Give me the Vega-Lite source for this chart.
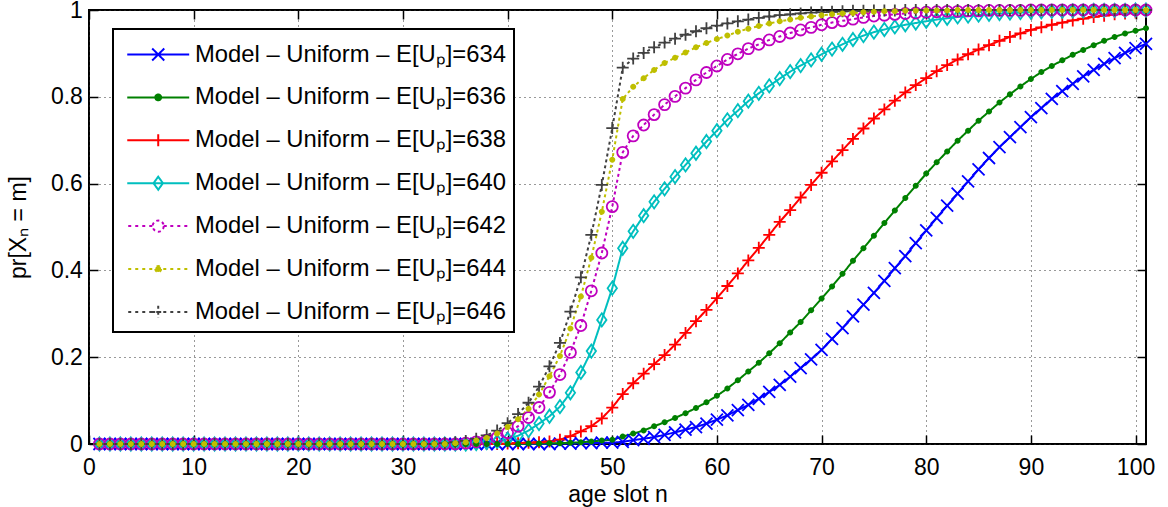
{
"$schema": "https://vega.github.io/schema/vega-lite/v6.json",
"width": 1057, "height": 434,
"autosize": {"type": "none"},
"padding": {"left": 89, "top": 10, "right": 22, "bottom": 63},
"background": "white",
"config": {
  "font": "Liberation Sans",
  "view": {"stroke": "black", "strokeWidth": 2},
  "axis": {"labelFont": "Liberation Sans", "labelFontSize": 23, "labelColor": "black", "labelFlush": false, "titleFont": "Liberation Sans", "titleFontSize": 23, "titleFontWeight": "normal", "titleColor": "black", "domain": false, "tickColor": "black", "tickWidth": 1.5, "gridColor": "#333333", "gridDash": [1, 4], "gridOpacity": 1, "gridWidth": 1}
},
"data": {"values": [
{"n":1,"634":0,"636":0,"638":0,"640":0,"642":0,"644":0,"646":0},
{"n":2,"634":0,"636":0,"638":0,"640":0,"642":0,"644":0,"646":0},
{"n":3,"634":0,"636":0,"638":0,"640":0,"642":0,"644":0,"646":0},
{"n":4,"634":0,"636":0,"638":0,"640":0,"642":0,"644":0,"646":0},
{"n":5,"634":0,"636":0,"638":0,"640":0,"642":0,"644":0,"646":0},
{"n":6,"634":0,"636":0,"638":0,"640":0,"642":0,"644":0,"646":0},
{"n":7,"634":0,"636":0,"638":0,"640":0,"642":0,"644":0,"646":0},
{"n":8,"634":0,"636":0,"638":0,"640":0,"642":0,"644":0,"646":0},
{"n":9,"634":0,"636":0,"638":0,"640":0,"642":0,"644":0,"646":0},
{"n":10,"634":0,"636":0,"638":0,"640":0,"642":0,"644":0,"646":0},
{"n":11,"634":0,"636":0,"638":0,"640":0,"642":0,"644":0,"646":0},
{"n":12,"634":0,"636":0,"638":0,"640":0,"642":0,"644":0,"646":0},
{"n":13,"634":0,"636":0,"638":0,"640":0,"642":0,"644":0,"646":0},
{"n":14,"634":0,"636":0,"638":0,"640":0,"642":0,"644":0,"646":0},
{"n":15,"634":0,"636":0,"638":0,"640":0,"642":0,"644":0,"646":0},
{"n":16,"634":0,"636":0,"638":0,"640":0,"642":0,"644":0,"646":0},
{"n":17,"634":0,"636":0,"638":0,"640":0,"642":0,"644":0,"646":0},
{"n":18,"634":0,"636":0,"638":0,"640":0,"642":0,"644":0,"646":0},
{"n":19,"634":0,"636":0,"638":0,"640":0,"642":0,"644":0,"646":0},
{"n":20,"634":0,"636":0,"638":0,"640":0,"642":0,"644":0,"646":0},
{"n":21,"634":0,"636":0,"638":0,"640":0,"642":0,"644":0,"646":0},
{"n":22,"634":0,"636":0,"638":0,"640":0,"642":0,"644":0,"646":0},
{"n":23,"634":0,"636":0,"638":0,"640":0,"642":0,"644":0,"646":0},
{"n":24,"634":0,"636":0,"638":0,"640":0,"642":0,"644":0,"646":0},
{"n":25,"634":0,"636":0,"638":0,"640":0,"642":0,"644":0,"646":0},
{"n":26,"634":0,"636":0,"638":0,"640":0,"642":0,"644":0,"646":0},
{"n":27,"634":0,"636":0,"638":0,"640":0,"642":0,"644":0,"646":0},
{"n":28,"634":0,"636":0,"638":0,"640":0,"642":0,"644":0,"646":0},
{"n":29,"634":0,"636":0,"638":0,"640":0,"642":0,"644":0,"646":0},
{"n":30,"634":0,"636":0,"638":0,"640":0,"642":0,"644":0,"646":0},
{"n":31,"634":0,"636":0,"638":0,"640":0,"642":0,"644":0,"646":0},
{"n":32,"634":0,"636":0,"638":0,"640":0,"642":0,"644":0,"646":0},
{"n":33,"634":0,"636":0,"638":0,"640":0,"642":0,"644":0,"646":0},
{"n":34,"634":0,"636":0,"638":0,"640":0,"642":0,"644":0,"646":0.002},
{"n":35,"634":0,"636":0,"638":0,"640":0,"642":0,"644":0.002,"646":0.004},
{"n":36,"634":0,"636":0,"638":0,"640":0,"642":0.002,"644":0.004,"646":0.007},
{"n":37,"634":0,"636":0,"638":0,"640":0.001,"642":0.005,"644":0.008,"646":0.012},
{"n":38,"634":0,"636":0,"638":0,"640":0.003,"642":0.009,"644":0.014,"646":0.020},
{"n":39,"634":0,"636":0,"638":0,"640":0.006,"642":0.015,"644":0.024,"646":0.031},
{"n":40,"634":0,"636":0,"638":0.001,"640":0.011,"642":0.026,"644":0.039,"646":0.048},
{"n":41,"634":0,"636":0,"638":0.002,"640":0.019,"642":0.041,"644":0.057,"646":0.069},
{"n":42,"634":0,"636":0.001,"638":0.003,"640":0.031,"642":0.061,"644":0.081,"646":0.095},
{"n":43,"634":0,"636":0.001,"638":0.004,"640":0.047,"642":0.084,"644":0.114,"646":0.132},
{"n":44,"634":0,"636":0.002,"638":0.006,"640":0.064,"642":0.119,"644":0.156,"646":0.179},
{"n":45,"634":0.001,"636":0.002,"638":0.010,"640":0.086,"642":0.160,"644":0.203,"646":0.233},
{"n":46,"634":0.001,"636":0.003,"638":0.018,"640":0.118,"642":0.211,"644":0.266,"646":0.305},
{"n":47,"634":0.002,"636":0.004,"638":0.029,"640":0.165,"642":0.273,"644":0.340,"646":0.384},
{"n":48,"634":0.002,"636":0.006,"638":0.041,"640":0.214,"642":0.353,"644":0.429,"646":0.482},
{"n":49,"634":0.003,"636":0.008,"638":0.059,"640":0.286,"642":0.440,"644":0.535,"646":0.597},
{"n":50,"634":0.003,"636":0.010,"638":0.084,"640":0.359,"642":0.547,"644":0.655,"646":0.728},
{"n":51,"634":0.005,"636":0.017,"638":0.115,"640":0.451,"642":0.672,"644":0.795,"646":0.867},
{"n":52,"634":0.009,"636":0.024,"638":0.140,"640":0.490,"642":0.710,"644":0.823,"646":0.888},
{"n":53,"634":0.012,"636":0.031,"638":0.162,"640":0.526,"642":0.735,"644":0.843,"646":0.901},
{"n":54,"634":0.016,"636":0.041,"638":0.184,"640":0.558,"642":0.759,"644":0.862,"646":0.914},
{"n":55,"634":0.021,"636":0.050,"638":0.205,"640":0.588,"642":0.782,"644":0.878,"646":0.925},
{"n":56,"634":0.027,"636":0.060,"638":0.229,"640":0.616,"642":0.801,"644":0.890,"646":0.934},
{"n":57,"634":0.033,"636":0.071,"638":0.256,"640":0.643,"642":0.820,"644":0.902,"646":0.943},
{"n":58,"634":0.039,"636":0.083,"638":0.283,"640":0.670,"642":0.839,"644":0.914,"646":0.951},
{"n":59,"634":0.047,"636":0.096,"638":0.309,"640":0.697,"642":0.856,"644":0.924,"646":0.958},
{"n":60,"634":0.056,"636":0.111,"638":0.336,"640":0.722,"642":0.871,"644":0.933,"646":0.964},
{"n":61,"634":0.066,"636":0.128,"638":0.364,"640":0.747,"642":0.886,"644":0.941,"646":0.969},
{"n":62,"634":0.078,"636":0.147,"638":0.393,"640":0.768,"642":0.899,"644":0.950,"646":0.974},
{"n":63,"634":0.090,"636":0.167,"638":0.423,"640":0.790,"642":0.911,"644":0.957,"646":0.978},
{"n":64,"634":0.104,"636":0.187,"638":0.452,"640":0.808,"642":0.921,"644":0.963,"646":0.982},
{"n":65,"634":0.120,"636":0.209,"638":0.482,"640":0.825,"642":0.931,"644":0.969,"646":0.985},
{"n":66,"634":0.136,"636":0.232,"638":0.512,"640":0.842,"642":0.939,"644":0.974,"646":0.988},
{"n":67,"634":0.155,"636":0.257,"638":0.539,"640":0.858,"642":0.947,"644":0.978,"646":0.990},
{"n":68,"634":0.175,"636":0.281,"638":0.568,"640":0.872,"642":0.954,"644":0.982,"646":0.992},
{"n":69,"634":0.195,"636":0.308,"638":0.597,"640":0.885,"642":0.960,"644":0.985,"646":0.994},
{"n":70,"634":0.217,"636":0.335,"638":0.625,"640":0.898,"642":0.966,"644":0.988,"646":0.995},
{"n":71,"634":0.242,"636":0.363,"638":0.651,"640":0.910,"642":0.971,"644":0.990,"646":0.996},
{"n":72,"634":0.267,"636":0.392,"638":0.677,"640":0.921,"642":0.975,"644":0.992,"646":0.997},
{"n":73,"634":0.294,"636":0.422,"638":0.703,"640":0.932,"642":0.979,"644":0.993,"646":0.998},
{"n":74,"634":0.321,"636":0.451,"638":0.727,"640":0.941,"642":0.983,"644":0.995,"646":0.998},
{"n":75,"634":0.348,"636":0.480,"638":0.750,"640":0.949,"642":0.986,"644":0.996,"646":0.999},
{"n":76,"634":0.376,"636":0.509,"638":0.771,"640":0.955,"642":0.988,"644":0.997,"646":0.999},
{"n":77,"634":0.405,"636":0.538,"638":0.791,"640":0.961,"642":0.990,"644":0.997,"646":0.999},
{"n":78,"634":0.433,"636":0.567,"638":0.810,"640":0.966,"642":0.992,"644":0.998,"646":1},
{"n":79,"634":0.463,"636":0.595,"638":0.827,"640":0.970,"642":0.993,"644":0.998,"646":1},
{"n":80,"634":0.492,"636":0.623,"638":0.843,"640":0.974,"642":0.995,"644":0.999,"646":1},
{"n":81,"634":0.521,"636":0.649,"638":0.859,"640":0.978,"642":0.996,"644":0.999,"646":1},
{"n":82,"634":0.549,"636":0.674,"638":0.873,"640":0.981,"642":0.997,"644":0.999,"646":1},
{"n":83,"634":0.577,"636":0.699,"638":0.886,"640":0.984,"642":0.997,"644":1,"646":1},
{"n":84,"634":0.605,"636":0.722,"638":0.898,"640":0.986,"642":0.998,"644":1,"646":1},
{"n":85,"634":0.633,"636":0.745,"638":0.909,"640":0.988,"642":0.998,"644":1,"646":1},
{"n":86,"634":0.659,"636":0.766,"638":0.919,"640":0.990,"642":0.999,"644":1,"646":1},
{"n":87,"634":0.684,"636":0.787,"638":0.929,"640":0.992,"642":0.999,"644":1,"646":1},
{"n":88,"634":0.707,"636":0.806,"638":0.938,"640":0.993,"642":0.999,"644":1,"646":1},
{"n":89,"634":0.730,"636":0.824,"638":0.946,"640":0.994,"642":0.999,"644":1,"646":1},
{"n":90,"634":0.753,"636":0.841,"638":0.954,"640":0.995,"642":1,"644":1,"646":1},
{"n":91,"634":0.774,"636":0.857,"638":0.960,"640":0.996,"642":1,"644":1,"646":1},
{"n":92,"634":0.795,"636":0.871,"638":0.966,"640":0.997,"642":1,"644":1,"646":1},
{"n":93,"634":0.813,"636":0.884,"638":0.971,"640":0.997,"642":1,"644":1,"646":1},
{"n":94,"634":0.830,"636":0.897,"638":0.976,"640":0.998,"642":1,"644":1,"646":1},
{"n":95,"634":0.847,"636":0.908,"638":0.980,"640":0.998,"642":1,"644":1,"646":1},
{"n":96,"634":0.862,"636":0.919,"638":0.984,"640":0.999,"642":1,"644":1,"646":1},
{"n":97,"634":0.876,"636":0.929,"638":0.987,"640":0.999,"642":1,"644":1,"646":1},
{"n":98,"634":0.889,"636":0.938,"638":0.990,"640":0.999,"642":1,"644":1,"646":1},
{"n":99,"634":0.901,"636":0.946,"638":0.992,"640":0.999,"642":1,"644":1,"646":1},
{"n":100,"634":0.912,"636":0.952,"638":0.994,"640":1,"642":1,"644":1,"646":1},
{"n":101,"634":0.922,"636":0.958,"638":0.996,"640":1,"642":1,"644":1,"646":1}
]},
"transform": [{"fold": ["634","636","638","640","642","644","646"], "as": ["series", "p"]}],
"layer": [
  {
    "mark": {"type": "line", "strokeWidth": 2},
    "encoding": {
      "x": {"field": "n", "type": "quantitative", "scale": {"domain": [0, 101], "nice": false, "zero": false},
        "axis": {"orient": "bottom", "values": [0,10,20,30,40,50,60,70,80,90,100], "title": "age slot n", "tickSize": -9, "labelPadding": 21, "titlePadding": 4, "grid": true}},
      "y": {"field": "p", "type": "quantitative", "scale": {"domain": [0, 1], "nice": false},
        "axis": {"orient": "left", "values": [0,0.2,0.4,0.6,0.8,1], "format": "~g", "title": "pr[Xₙ = m]", "tickSize": -9, "labelPadding": 15.6, "titlePadding": 20, "grid": true}},
      "color": {"field": "series", "type": "nominal",
        "scale": {"domain": ["634","636","638","640","642","644","646"], "range": ["#0000ff","#008000","#ff0000","#00bfbf","#bf00bf","#bfbf00","#404040"]},
        "legend": {
          "title": null, "orient": "none", "legendX": 24, "legendY": 19,
          "fillColor": "white", "strokeColor": "black", "padding": 8,
          "symbolSize": 1063, "symbolStrokeWidth": 2,
          "labelFont": "Liberation Sans", "labelFontSize": 23.8, "labelColor": "black", "labelOffset": 39, "labelLimit": 0,
          "rowPadding": 12.9,
          "labelExpr": "'Model – Uniform – E[Uₚ]=' + datum.label",
          "encode": {
            "legend": {"update": {"strokeWidth": {"value": 2}}},
            "symbols": {"update": {
              "shape": {"signal": "datum.value === '634' ? 'M-0.69,0L3.11,0M0.84,-0.37L1.58,0.37M0.84,0.37L1.58,-0.37' : datum.value === '636' ? 'M-0.69,0L3.11,0M1.39,0A0.18,0.18,0,1,1,1.03,0A0.18,0.18,0,1,1,1.39,0Z' : datum.value === '638' ? 'M-0.69,0L3.11,0M1.21,-0.37L1.21,0.37' : datum.value === '640' ? 'M-0.69,0L3.11,0M1.21,-0.4L1.5,0L1.21,0.4L0.92,0Z' : datum.value === '642' ? 'M-0.63,0L-0.39,0M-0.2,0L0.04,0M0.23,0L0.47,0M0.66,0L0.87,0M1.55,0L1.76,0M1.95,0L2.19,0M2.38,0L2.62,0M2.81,0L3.05,0M1.55,0A0.34,0.34,0,1,1,0.87,0A0.34,0.34,0,1,1,1.55,0Z' : datum.value === '644' ? 'M-0.63,0L-0.39,0M-0.2,0L0.04,0M0.23,0L0.47,0M0.66,0L0.9,0M1.09,0L1.33,0M1.52,0L1.76,0M1.95,0L2.19,0M2.38,0L2.62,0M2.81,0L3.05,0M1.39,0A0.18,0.18,0,1,1,1.03,0A0.18,0.18,0,1,1,1.39,0Z' : 'M-0.63,0L-0.39,0M-0.2,0L0.04,0M0.23,0L0.47,0M0.66,0L0.9,0M1.09,0L1.33,0M1.52,0L1.76,0M1.95,0L2.19,0M2.38,0L2.62,0M2.81,0L3.05,0M1.21,-0.37L1.21,0.37M0.84,0L1.58,0'"},
              "stroke": {"signal": "scale('color', datum.value)"},
              "fill": {"signal": "datum.value === '636' || datum.value === '644' ? scale('color', datum.value) : 'transparent'"},
              "strokeWidth": {"value": 2},
              "strokeDash": {"value": []},
              "size": {"value": 1063},
              "opacity": {"value": 1}
            }}
          }
        }},
      "strokeDash": {"field": "series", "type": "nominal",
        "scale": {"domain": ["634","636","638","640","642","644","646"], "range": [[1,0],[1,0],[1,0],[1,0],[3,3],[3,3],[3,3]]},
        "legend": null}
    }
  },
  {
    "transform": [{"filter": "datum.series !== '636' && datum.series !== '644'"}],
    "mark": {"type": "point", "filled": false, "size": 144, "strokeWidth": 1.8, "opacity": 1},
    "encoding": {
      "x": {"field": "n", "type": "quantitative", "axis": {"orient": "top", "values": [0,10,20,30,40,50,60,70,80,90,100], "labels": false, "title": null, "grid": false, "tickSize": -9}},
      "y": {"field": "p", "type": "quantitative", "axis": {"orient": "right", "values": [0,0.2,0.4,0.6,0.8,1], "labels": false, "title": null, "grid": false, "tickSize": -9}},
      "stroke": {"field": "series", "type": "nominal", "legend": null,
        "scale": {"domain": ["634","638","640","642","646"], "range": ["#0000ff","#ff0000","#00bfbf","#bf00bf","#404040"]}},
      "shape": {"field": "series", "type": "nominal", "legend": null,
        "scale": {"domain": ["634","638","640","642","646"], "range": ["M-1,-1L1,1M-1,1L1,-1", "M-1,0L1,0M0,-1L0,1", "M0,-1.1L0.78,0L0,1.1L-0.78,0Z", "M0.92,0A0.92,0.92,0,1,1,-0.92,0A0.92,0.92,0,1,1,0.92,0Z", "M-1,0L1,0M0,-1L0,1"]}}
    }
  },
  {
    "transform": [{"filter": "datum.series === '636' || datum.series === '644'"}],
    "mark": {"type": "point", "filled": true, "size": 144, "opacity": 1, "shape": "M0.5,0A0.5,0.5,0,1,1,-0.5,0A0.5,0.5,0,1,1,0.5,0Z"},
    "encoding": {
      "x": {"field": "n", "type": "quantitative", "axis": null},
      "y": {"field": "p", "type": "quantitative", "axis": null},
      "fill": {"field": "series", "type": "nominal", "legend": null,
        "scale": {"domain": ["636","644"], "range": ["#008000","#bfbf00"]}}
    }
  }
],
"resolve": {"axis": {"x": "independent", "y": "independent"}}
}
